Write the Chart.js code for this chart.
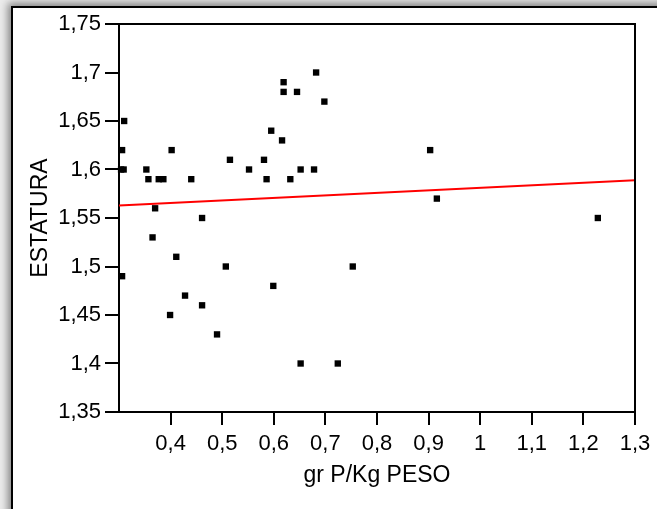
<!DOCTYPE html>
<html>
<head>
<meta charset="utf-8">
<script src="https://cdn.jsdelivr.net/npm/chart.js@4.4.1/dist/chart.umd.min.js"></script>
<style>
  html, body { margin: 0; padding: 0; width: 657px; height: 509px; overflow: hidden; background: #ececec; }
  #frame {
    position: absolute; left: 11px; top: 6px; width: 660px; height: 520px;
    background: #fff; border-left: 2px solid #000; border-top: 2px solid #000;
    box-shadow: -3px -3px 8px rgba(0,0,0,0.45);
  }
  #wrap { position: absolute; left: 0; top: 0; width: 657px; height: 509px; }
</style>
</head>
<body>
<div id="frame"></div>
<div id="wrap"><canvas id="scatterChart"></canvas></div>
<script>
// Data
const pesoValues = [0.31, 0.306, 0.304, 0.309, 0.306, 0.353, 0.357, 0.377, 0.386, 0.402,
  0.37, 0.365, 0.411, 0.399, 0.428, 0.44, 0.461, 0.461, 0.49, 0.507,
  0.515, 0.552, 0.581, 0.586, 0.595, 0.599, 0.616, 0.619, 0.619, 0.632,
  0.645, 0.652, 0.652, 0.678, 0.682, 0.698, 0.724, 0.753, 0.903, 0.916, 1.228];
const estaturaValues = [1.65, 1.62, 1.60, 1.60, 1.49, 1.60, 1.59, 1.59, 1.59, 1.62,
  1.56, 1.53, 1.51, 1.45, 1.47, 1.59, 1.55, 1.46, 1.43, 1.50,
  1.61, 1.60, 1.61, 1.59, 1.64, 1.48, 1.63, 1.69, 1.68, 1.59,
  1.68, 1.60, 1.40, 1.60, 1.70, 1.67, 1.40, 1.50, 1.62, 1.57, 1.55];
// Fitted line ends
const fitX = [0.3, 1.3];
const fitY = [1.563, 1.589];

const xTickValues = [0.4, 0.5, 0.6, 0.7, 0.8, 0.9, 1.0, 1.1, 1.2, 1.3];

function formatComma(v) {
  return String(Math.round(v * 100) / 100).replace('.', ',');
}

// Draws the top and right sides of the plot box
const plotBox = {
  id: 'plotBox',
  afterDraw(chart) {
    const { ctx, chartArea: a } = chart;
    ctx.save();
    ctx.strokeStyle = '#000';
    ctx.lineWidth = 2;
    ctx.beginPath();
    ctx.moveTo(a.left, a.top);
    ctx.lineTo(a.right, a.top);
    ctx.lineTo(a.right, a.bottom);
    ctx.stroke();
    ctx.restore();
  }
};

const tickFont = { family: 'Liberation Sans, Arial, sans-serif', size: 22 };
const titleFont = { family: 'Liberation Sans, Arial, sans-serif', size: 23 };

new Chart(document.getElementById('scatterChart'), {
  type: 'scatter',
  data: {
    datasets: [{
      label: 'ESTATURA',
      data: pesoValues.map((x, i) => ({ x: x, y: estaturaValues[i] })),
      pointStyle: 'rect',
      pointRadius: 4.5,
      pointBorderWidth: 0,
      backgroundColor: '#000',
      clip: false
    }, {
      label: 'Ajuste',
      type: 'line',
      data: fitX.map((x, i) => ({ x: x, y: fitY[i] })),
      borderColor: '#ff0000',
      borderWidth: 2,
      pointRadius: 0,
      fill: false
    }]
  },
  options: {
    responsive: true,
    maintainAspectRatio: false,
    animation: false,
    layout: { padding: { left: 0, top: 24, right: 22, bottom: 0 } },
    plugins: {
      legend: { display: false },
      tooltip: { enabled: false }
    },
    scales: {
      x: {
        type: 'linear',
        min: 0.3,
        max: 1.3,
        afterBuildTicks: function(scale) {
          scale.ticks = xTickValues.map(v => ({ value: v }));
        },
        afterFit: function(scale) { scale.height = 97; },
        border: { color: '#000', width: 2 },
        grid: { drawOnChartArea: false, drawTicks: true, tickLength: 13, color: '#000', lineWidth: 2 },
        ticks: {
          color: '#000', font: tickFont, padding: 6, autoSkip: false, maxRotation: 0,
          callback: function(v) { return formatComma(v); }
        },
        title: {
          display: true, text: 'gr P/Kg PESO', color: '#000', font: titleFont,
          padding: { top: 4, bottom: 20 }
        }
      },
      y: {
        type: 'linear',
        min: 1.35,
        max: 1.75,
        afterFit: function(scale) { scale.width = 119; },
        border: { color: '#000', width: 2 },
        grid: { drawOnChartArea: false, drawTicks: true, tickLength: 14, color: '#000', lineWidth: 2 },
        ticks: {
          color: '#000', font: tickFont, padding: 4, stepSize: 0.05, autoSkip: false,
          callback: function(v) { return formatComma(v); }
        },
        title: {
          display: true, text: 'ESTATURA', color: '#000', font: titleFont,
          padding: { top: 27, bottom: 0 }
        }
      }
    }
  },
  plugins: [plotBox]
});
</script>
</body>
</html>
